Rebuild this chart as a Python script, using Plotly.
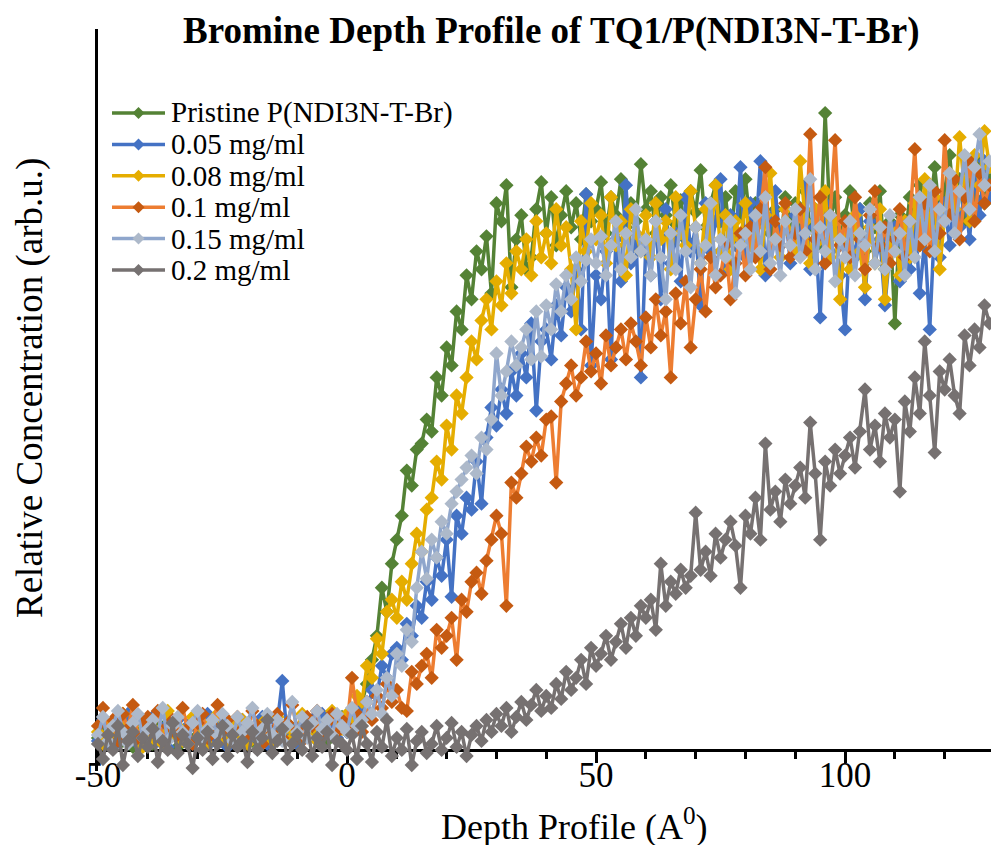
import plotly.graph_objects as go

# Depth grid (Angstrom)
DEPTH = list(range(-50, 130))

SERIES_NAMES = ["Pristine P(NDI3N-T-Br)", "0.05 mg/ml", "0.08 mg/ml",
                "0.1 mg/ml", "0.15 mg/ml", "0.2 mg/ml"]

PRISTINE = [
    4, 8, 2, 6, 10, 3, 5, 1, 7, 4,
    6, 2, 9, 3, 5, 8, 1, 4, 7, 3,
    5, 9, 2, 6, 4, 11, 3, 7, 2, 5,
    8, 3, 6, 10, 4, 2, 7, 5, 9, 3,
    6, 4, 8, 5, 10, 7, 3, 9, 6, 11,
    6, 10, 8, 16, 22, 30, 38, 54, 46, 62,
    70, 78, 93, 88, 100, 102, 110, 106, 124, 118,
    134, 128, 146, 140, 158, 150, 166, 160, 171, 152,
    182, 176, 188, 154, 170, 178, 160, 164, 180, 189,
    172, 184, 168, 178, 186, 174, 182, 170, 185, 176,
    180, 189, 172, 184, 178, 190, 174, 182, 176, 195,
    180, 186, 172, 184, 178, 188, 175, 183, 170, 186,
    179, 193, 174, 182, 188, 176, 184, 170, 186, 178,
    190, 174, 182, 176, 186, 172, 180, 168, 184, 176,
    182, 170, 186, 174, 180, 168, 212, 176, 184, 170,
    178, 186, 172, 180, 166, 182, 174, 186, 160, 176,
    142, 178, 170, 184, 176, 188, 172, 180, 194, 178,
    186, 198, 180, 190, 176, 192, 184, 196, 182, 190,
]

C005 = [
    3, 10, 5, 1, 8, 4, 12, 6, 2, 9,
    5, 11, 3, 7, 1, 6, 10, 4, 8, 2,
    7, 5, 12, 3, 9, 6, 1, 8, 4, 10,
    3, 7, 5, 11, 2, 6, 9, 23, 4, 7,
    2, 8, 5, 10, 3, 12, 6, 9, 4, 8,
    6, 10, 8, 14, 12, 20, 18, 28, 24, 32,
    34, 30, 42, 38, 48, 44, 56, 50, 64, 58,
    70, 51, 78, 72, 84, 80, 96, 82, 104, 114,
    108, 120, 112, 126, 118, 132, 124, 142, 113, 136,
    140, 130, 148, 138, 154, 146, 160, 140, 185, 128,
    158, 150, 166, 130, 170, 156, 188, 162, 172, 124,
    168, 158, 176, 150, 180, 162, 172, 156, 184, 166,
    174, 148, 182, 166, 176, 190, 160, 178, 168, 194,
    164, 182, 170, 196, 158, 176, 186, 168, 180, 162,
    178, 170, 188, 160, 174, 144, 182, 166, 176, 158,
    140, 172, 164, 180, 150, 176, 162, 170, 148, 166,
    174, 156, 168, 160, 178, 152, 170, 140, 176, 164,
    182, 168, 190, 174, 186, 170, 192, 178, 196, 184,
]

C008 = [
    6, 2, 9, 4, 7, 12, 3, 8, 5, 1,
    10, 4, 6, 2, 13, 5, 8, 3, 7, 11,
    4, 9, 2, 6, 12, 5, 3, 8, 6, 10,
    2, 7, 4, 9, 5, 3, 11, 6, 8, 4,
    7, 12, 5, 9, 3, 8, 6, 13, 10, 7,
    12, 10, 18, 16, 28, 24, 37, 32, 46, 50,
    44, 56, 50, 62, 72, 66, 80, 84, 96, 90,
    108, 100, 118, 112, 124, 136, 130, 143, 150, 140,
    156, 148, 162, 152, 166, 160, 170, 158, 176, 164,
    172, 162, 180, 168, 174, 160, 140, 176, 166, 182,
    170, 178, 162, 184, 168, 176, 158, 180, 172, 166,
    178, 164, 182, 170, 176, 160, 184, 172, 168, 186,
    174, 162, 180, 170, 188, 166, 178, 160, 176, 170,
    182, 168, 174, 160, 178, 192, 170, 164, 180, 172,
    166, 196, 176, 162, 180, 170, 186, 164, 176, 150,
    172, 160, 178, 166, 154, 174, 162, 180, 150, 168,
    172, 158, 176, 164, 182, 168, 190, 174, 184, 160,
    178, 192, 180, 204, 186, 176, 198, 188, 206, 194,
]

C010 = [
    8, 14, 5, 10, 3, 12, 7, 15, 4, 9,
    11, 6, 13, 3, 8, 10, 5, 14, 7, 2,
    9, 12, 4, 8, 15, 6, 10, 3, 11, 7,
    5, 13, 8, 2, 10, 6, 12, 4, 9, 15,
    7, 3, 11, 8, 13, 5, 9, 12, 6, 10,
    8, 24, 12, 6, 16, 10, 18, 14, 22, 16,
    20, 14, 13, 26, 22, 28, 32, 24, 40, 34,
    38, 44, 30, 50, 46, 56, 59, 52, 63, 70,
    78, 72, 48, 89, 84, 92, 101, 96, 104, 98,
    110, 111, 89, 116, 122, 128, 118, 124, 136, 126,
    132, 122, 138, 128, 134, 140, 130, 142, 136, 128,
    144, 134, 150, 138, 146, 124, 152, 142, 156, 134,
    150, 160, 146, 164, 154, 158, 168, 150, 162, 172,
    158, 174, 164, 180, 194, 160, 176, 168, 182, 164,
    172, 180, 166, 205, 170, 184, 162, 178, 203, 168,
    176, 164, 184, 170, 160, 178, 186, 168, 174, 162,
    170, 180, 164, 176, 200, 168, 182, 166, 186, 172,
    203, 178, 190, 170, 184, 196, 176, 192, 182, 188,
]

C015 = [
    5, 11, 3, 8, 13, 6, 2, 9, 12, 4,
    7, 10, 5, 14, 3, 8, 11, 6, 2, 9,
    13, 4, 7, 10, 5, 12, 8, 3, 11, 6,
    9, 14, 4, 7, 12, 5, 10, 3, 8, 16,
    6, 11, 4, 9, 13, 7, 10, 5, 12, 8,
    6, 14, 8, 10, 16, 12, 20, 12, 24, 18,
    32, 28, 40, 36, 54, 66, 57, 70, 64, 76,
    72, 82, 86, 90, 94, 98, 92, 104, 100, 110,
    132, 118, 126, 136, 128, 134, 140, 130, 146, 131,
    148, 140, 155, 146, 158, 150, 164, 156, 163, 170,
    162, 171, 158, 168, 176, 160, 172, 164, 180, 166,
    170, 158, 176, 164, 150, 172, 160, 178, 166, 154,
    174, 162, 168, 182, 158, 170, 164, 176, 152, 168,
    172, 160, 178, 166, 184, 162, 170, 158, 176, 168,
    180, 164, 172, 190, 160, 174, 166, 178, 156, 170,
    164, 176, 158, 172, 168, 180, 162, 174, 160, 178,
    166, 172, 158, 176, 164, 184, 170, 188, 166, 180,
    176, 192, 172, 186, 198, 180, 194, 205, 188, 196,
]

C020 = [
    2, -3, 5, 0, 8, -5, 3, 6, -2, 4,
    1, 7, -4, 3, 0, 9, -1, 5, 2, -6,
    4, 0, 6, -3, 2, 8, -2, 5, 1, 3,
    -4, 6, 0, 4, 10, -1, 3, 7, -3, 2,
    5, 0, 8, -2, 4, 1, 6, -5, 3, 2,
    0, 5, -3, 8, 2, -4, 6, 1, 10, -2,
    4, 0, 7, -5, 3, 6, -1, 2, 8, 0,
    4, 9, 1, 6, -2, 5, 8, 3, 10, 6,
    12, 8, 14, 6, 11, 16, 10, 15, 20, 13,
    18, 14, 22, 17, 26, 20, 24, 30, 22, 34,
    28, 32, 38, 30, 36, 42, 34, 44, 38, 48,
    44, 50, 40, 62, 48, 56, 52, 60, 54, 58,
    79, 60, 66, 58, 72, 64, 70, 76, 68, 54,
    78, 72, 84, 70, 102, 80, 86, 76, 90, 82,
    88, 94, 84, 109, 92, 70, 96, 88, 100, 92,
    98, 104, 94, 106, 120, 100, 108, 96, 112, 104,
    110, 86, 116, 106, 124, 112, 136, 118, 99, 126,
    120, 130, 118, 112, 138, 128, 140, 134, 148, 142,
]

SERIES = [PRISTINE, C005, C008, C010, C015, C020]
LINE_COLORS = ["#548235", "#4472C4", "#E5AD00", "#ED7D31", "#8FA6CC", "#767171"]
MARKER_COLORS = ["#548235", "#4472C4", "#E5AD00", "#C55A11", "#ADB9CA", "#767171"]

X_TICKS = [-50, 0, 50, 100]
X_TICK_LABELS = ["-50", "0", "50", "100"]

FONT = "Liberation Serif"
W, H = 991, 845
ML, MR, MT, MB = 98, 0, 29, 74
PW, PH = W - ML - MR, H - MT - MB


def px_x(px):
    return (px - ML) / PW


def px_y(py):
    return (H - MB - py) / PH


fig = go.Figure()
for name, ys, lc, mc in zip(SERIES_NAMES, SERIES, LINE_COLORS, MARKER_COLORS):
    fig.add_trace(go.Scatter(
        x=DEPTH, y=ys, name=name, mode="lines+markers",
        line=dict(color=lc, width=3.5),
        marker=dict(symbol="diamond", size=11, color=mc, line=dict(width=0)),
        cliponaxis=False, showlegend=False,
    ))

# manual legend (Excel-style)
shapes = []
annotations = []
row0, rowgap = 113, 31.4
for i, (name, lc, mc) in enumerate(zip(SERIES_NAMES, LINE_COLORS, MARKER_COLORS)):
    cy = row0 + i * rowgap
    shapes.append(dict(type="line", xref="paper", yref="paper",
                       x0=px_x(112), x1=px_x(165), y0=px_y(cy), y1=px_y(cy),
                       line=dict(color=lc, width=3.5)))
    cx, r = 138.5, 6
    path = "M{},{} L{},{} L{},{} L{},{} Z".format(
        px_x(cx - r), px_y(cy), px_x(cx), px_y(cy - r),
        px_x(cx + r), px_y(cy), px_x(cx), px_y(cy + r))
    shapes.append(dict(type="path", xref="paper", yref="paper", path=path,
                       fillcolor=mc, line=dict(width=0)))
    annotations.append(dict(text=name, xref="paper", yref="paper",
                            x=px_x(169), y=px_y(cy), xanchor="left", yanchor="middle",
                            showarrow=False, font=dict(family=FONT, size=29, color="black")))

annotations.append(dict(text="<b>Bromine Depth Profile of TQ1/P(NDI3N-T-Br)</b>",
                        xref="paper", yref="paper", x=px_x(551), y=px_y(31),
                        xanchor="center", yanchor="middle", showarrow=False,
                        font=dict(family=FONT, size=37, color="black")))
annotations.append(dict(text="Depth Profile (A<sup>0</sup>)",
                        xref="paper", yref="paper", x=px_x(574), y=px_y(824),
                        xanchor="center", yanchor="middle", showarrow=False,
                        font=dict(family=FONT, size=36, color="black")))
annotations.append(dict(text="Relative Concentration (arb.u.)",
                        xref="paper", yref="paper", x=px_x(30), y=px_y(388),
                        xanchor="center", yanchor="middle", textangle=-90, showarrow=False,
                        font=dict(family=FONT, size=37, color="black")))

fig.update_layout(
    width=W, height=H,
    margin=dict(l=ML, r=MR, t=MT, b=MB, pad=0),
    paper_bgcolor="white", plot_bgcolor="white",
    showlegend=False,
    shapes=shapes, annotations=annotations,
    xaxis=dict(range=[-50, 129.3], anchor="free", position=px_y(750),
               showline=True, linecolor="black", linewidth=2.5,
               tickmode="array", tickvals=X_TICKS, ticktext=X_TICK_LABELS,
               ticks="outside", ticklen=11, tickwidth=2.5, tickcolor="black",
               ticklabelstandoff=-18,
               tickfont=dict(family=FONT, size=35, color="black"),
               minor=dict(tickmode="linear", tick0=0, dtick=10, ticks="outside",
                          ticklen=7, tickwidth=2.5, tickcolor="black", showgrid=False),
               showgrid=False, zeroline=False, layer="below traces"),
    yaxis=dict(range=[-7, 240], showline=True, linecolor="black", linewidth=3,
               showticklabels=False, ticks="", showgrid=False, zeroline=False,
               layer="below traces"),
)

fig.write_html("out.html")
